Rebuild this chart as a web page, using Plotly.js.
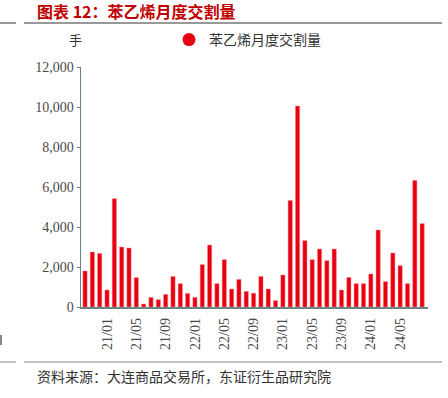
<!DOCTYPE html>
<html>
<head>
<meta charset="utf-8">
<script src="https://cdn.plot.ly/plotly-3.0.1.min.js"></script>
<style>
html,body{margin:0;padding:0;background:#fff;}
#chart{width:448px;height:398px;}
</style>
</head>
<body>
<div id="chart"></div>
<script>
const months = [
  '20/10','20/11','20/12',
  '21/01','21/02','21/03','21/04','21/05','21/06','21/07','21/08','21/09','21/10','21/11','21/12',
  '22/01','22/02','22/03','22/04','22/05','22/06','22/07','22/08','22/09','22/10','22/11','22/12',
  '23/01','23/02','23/03','23/04','23/05','23/06','23/07','23/08','23/09','23/10','23/11','23/12',
  '24/01','24/02','24/03','24/04','24/05','24/06','24/07','24/08'
];
const volume = [
  1800, 2750, 2680,
  850, 5420, 3000, 2950, 1470, 150, 480, 370, 630, 1530, 1170, 680,
  480, 2120, 3100, 1170, 2370, 900, 1380, 780, 690, 1530, 900, 320,
  1600, 5330, 10050, 3320, 2370, 2900, 2320, 2900, 850, 1480, 1170, 1170,
  1650, 3850, 1270, 2700, 2070, 1170, 6330, 4170
];
const tickLabels = ['21/01','21/05','21/09','22/01','22/05','22/09','23/01','23/05','23/09','24/01','24/05'];
const seriesName = '苯乙烯月度交割量';
const unitLabel = '手';
const titleText = '图表 12：苯乙烯月度交割量';
const sourceText = '资料来源：大连商品交易所，东证衍生品研究院';

const serif = '"Liberation Serif", "Times New Roman", serif';
const cjk = '"Noto Sans CJK SC", sans-serif';

const traces = [
  {
    type: 'bar',
    x: months,
    y: volume,
    name: seriesName,
    showlegend: false,
    marker: {color: '#e60012', line: {color: 'rgba(255,140,140,0.8)', width: 0.6}},
    hoverinfo: 'x+y'
  },
  {
    type: 'scatter',
    mode: 'markers',
    x: [null],
    y: [null],
    name: seriesName,
    marker: {color: '#e60012', size: 13, symbol: 'circle'},
    showlegend: true
  }
];

const W = 448, H = 398;
const L = 81, R = 20, T = 67, B = 91;
const pw = W - L - R, ph = H - T - B;
const px = v => (v - L) / pw;
const py = v => (H - B - v) / ph;

const layout = {
  width: W, height: H,
  margin: {l: L, r: R, t: T, b: B, pad: 0},
  paper_bgcolor: '#ffffff',
  plot_bgcolor: '#ffffff',
  bargap: 0.42,
  font: {family: serif, color: '#444444', size: 14},
  xaxis: {
    type: 'category',
    range: [-0.55, 46.8],
    tickmode: 'array',
    tickvals: tickLabels,
    ticktext: tickLabels,
    tickangle: -90,
    ticks: '',
    ticklabelstandoff: 4,
    showgrid: false,
    zeroline: false,
    showline: true,
    linecolor: '#6b8585',
    linewidth: 1.5,
    tickfont: {family: serif, size: 14, color: '#4a4a4a'}
  },
  yaxis: {
    range: [0, 12000],
    tickvals: [0, 2000, 4000, 6000, 8000, 10000, 12000],
    tickformat: ',d',
    ticks: 'outside',
    ticklen: 3,
    tickcolor: '#6b8585',
    showgrid: false,
    zeroline: false,
    showline: true,
    linecolor: '#6b8585',
    linewidth: 1.5,
    tickfont: {family: serif, size: 14, color: '#4a4a4a'}
  },
  showlegend: true,
  legend: {
    x: px(169), y: py(40), xanchor: 'left', yanchor: 'middle',
    orientation: 'h',
    font: {family: cjk, size: 14, color: '#333333'},
    bgcolor: 'rgba(0,0,0,0)',
    itemwidth: 30
  },
  annotations: [
    {xref: 'paper', yref: 'paper', x: px(35), y: py(10.5), xanchor: 'left', yanchor: 'middle',
     text: '<b>' + titleText + '</b>', showarrow: false,
     font: {family: cjk, size: 16, color: '#c00000'}},
    {xref: 'paper', yref: 'paper', x: px(75), y: py(40), xanchor: 'center', yanchor: 'middle',
     text: unitLabel, showarrow: false,
     font: {family: cjk, size: 13, color: '#333333'}},
    {xref: 'paper', yref: 'paper', x: px(35), y: py(376), xanchor: 'left', yanchor: 'middle',
     text: sourceText, showarrow: false,
     font: {family: cjk, size: 14, color: '#333333'}}
  ],
  shapes: [
    {type: 'line', xref: 'paper', yref: 'paper', x0: px(0), x1: px(16), y0: py(23), y1: py(23), line: {color: '#333333', width: 1}},
    {type: 'line', xref: 'paper', yref: 'paper', x0: px(24), x1: px(442), y0: py(23), y1: py(23), line: {color: '#333333', width: 1}},
    {type: 'line', xref: 'paper', yref: 'paper', x0: px(0), x1: px(16), y0: py(362), y1: py(362), line: {color: '#888888', width: 1}},
    {type: 'line', xref: 'paper', yref: 'paper', x0: px(24), x1: px(442), y0: py(362), y1: py(362), line: {color: '#888888', width: 1}},
    {type: 'rect', xref: 'paper', yref: 'paper', x0: px(0), x1: px(2), y0: py(345), y1: py(335), line: {width: 0}, fillcolor: '#888888'}
  ]
};

Plotly.newPlot('chart', traces, layout, {displayModeBar: false, staticPlot: true});
</script>
</body>
</html>
